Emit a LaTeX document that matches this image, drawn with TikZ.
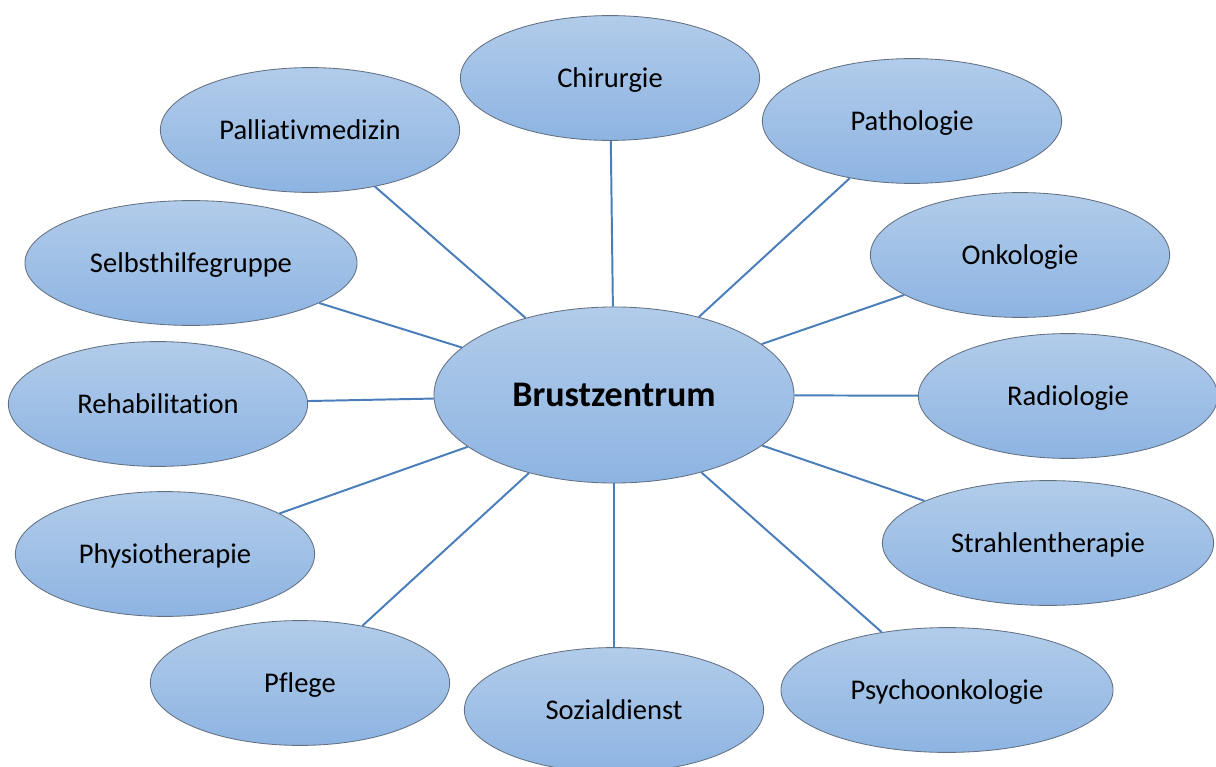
\documentclass[tikz,border=0pt]{standalone}
\usepackage{fontspec}
\setmainfont{Carlito}[Ligatures={NoCommon,NoRare,NoContextual}]
\usetikzlibrary{shapes.geometric}
\definecolor{hautbleu}{RGB}{178,204,234}
\definecolor{basbleu}{RGB}{141,180,226}
\definecolor{bordbleu}{RGB}{98,112,130}
\definecolor{lienbleu}{RGB}{74,126,187}

\begin{document}
\begin{tikzpicture}[x=0.025cm, y=-0.025cm]
\tikzset{ovale/.style={draw=bordbleu, line width=0.6pt, ellipse, inner sep=0pt, top color=hautbleu, bottom color=basbleu, minimum width=7.48cm, minimum height=3.12cm, font=\fontsize{20.3}{24}\selectfont, text height=0.46cm, text depth=0pt},
lien/.style={draw=lienbleu, line width=1.4pt}}
\clip (0, 0) rectangle (1216, 767);
\node[ovale, minimum width=9cm, minimum height=4.4cm, font=\fontsize{25.6}{30}\selectfont\bfseries, text height=0.58cm] (Z) at (614, 395) {Brustzentrum};
\node[ovale] (D1) at (610, 78) {Chirurgie};
\node[ovale] (D2) at (912, 121) {Pathologie};
\node[ovale] (D3) at (1020, 255) {Onkologie};
\node[ovale] (D4) at (1068, 396) {Radiologie};
\node[ovale, minimum width=8.28cm] (D5) at (1048, 543) {Strahlentherapie};
\node[ovale, minimum width=8.3cm] (D6) at (947, 690) {Psychoonkologie};
\node[ovale] (D7) at (614, 710) {Sozialdienst};
\node[ovale] (D8) at (300, 683) {Pflege};
\node[ovale] (D9) at (165, 554) {Physiotherapie};
\node[ovale] (D10) at (158, 404) {Rehabilitation};
\node[ovale, minimum width=8.3cm] (D11) at (191, 263) {Selbsthilfegruppe};
\node[ovale] (D12) at (310, 130) {Palliativmedizin};
\draw[lien] (Z) -- (D1);
\draw[lien] (Z) -- (D2);
\draw[lien] (Z) -- (D3);
\draw[lien] (Z) -- (D4);
\draw[lien] (Z) -- (D5);
\draw[lien] (Z) -- (D6);
\draw[lien] (Z) -- (D7);
\draw[lien] (Z) -- (D8);
\draw[lien] (Z) -- (D9);
\draw[lien] (Z) -- (D10);
\draw[lien] (Z) -- (D11);
\draw[lien] (Z) -- (D12);
\end{tikzpicture}
\end{document}
